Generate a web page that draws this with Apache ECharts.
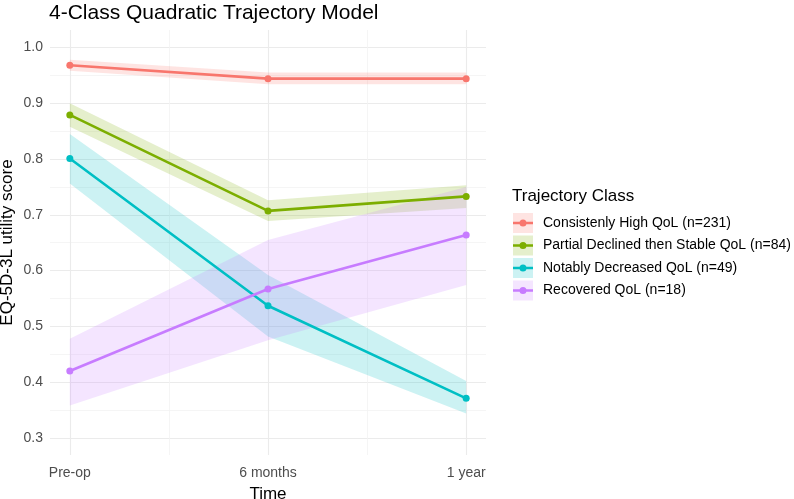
<!DOCTYPE html>
<html>
<head>
<meta charset="utf-8">
<script src="https://cdn.jsdelivr.net/npm/echarts@6/dist/echarts.min.js"></script>
<style>
  html, body { margin: 0; padding: 0; background: #fff; }
  #chart { width: 794px; height: 499px; }
</style>
</head>
<body>
<div id="chart"></div>
<script>
// time in months, with the labels shown under the axis
const timePoints = [0, 6, 12];
const timeLabels = ['Pre-op', '6 months', '1 year'];
const minorTimes = [3, 9];

const yMajorTicks = [0.3, 0.4, 0.5, 0.6, 0.7, 0.8, 0.9, 1.0];
const yMinorTicks = [0.35, 0.45, 0.55, 0.65, 0.75, 0.85, 0.95];

const classNames = [
  'Consistenly High QoL (n=231)',
  'Partial Declined then Stable QoL (n=84)',
  'Notably Decreased QoL (n=49)',
  'Recovered QoL (n=18)'
];
const classColors = ['#F8766D', '#7CAE00', '#00BFC4', '#C77CFF'];

// mean utility and ribbon per class
const highMean = [0.968, 0.944, 0.944];
const highLower = [0.958, 0.934, 0.934];
const highUpper = [0.978, 0.955, 0.955];

const partialMean = [0.879, 0.707, 0.733];
const partialLower = [0.858, 0.689, 0.712];
const partialUpper = [0.900, 0.726, 0.753];

const decreasedMean = [0.801, 0.537, 0.371];
const decreasedLower = [0.756, 0.482, 0.344];
const decreasedUpper = [0.845, 0.592, 0.402];

const recoveredMean = [0.420, 0.567, 0.664];
const recoveredLower = [0.358, 0.475, 0.574];
const recoveredUpper = [0.478, 0.655, 0.750];

const means = [highMean, partialMean, decreasedMean, recoveredMean];
const lowers = [highLower, partialLower, decreasedLower, recoveredLower];
const uppers = [highUpper, partialUpper, decreasedUpper, recoveredUpper];

const FONT = 'Liberation Sans, Arial, sans-serif';

let chart = echarts.init(document.getElementById('chart'));

function bandSeries(idx) {
  const lo = lowers[idx], hi = uppers[idx];
  return {
    type: 'custom',
    name: classNames[idx] + ' band',
    silent: true,
    z: 1,
    data: timePoints.map((t, i) => [t, lo[i], hi[i]]),
    encode: { x: 0, y: [1, 2] },
    renderItem: function (params, api) {
      if (params.dataIndex !== 0) return;
      let pts = [];
      for (let i = 0; i < timePoints.length; i++) pts.push(api.coord([timePoints[i], hi[i]]));
      for (let i = timePoints.length - 1; i >= 0; i--) pts.push(api.coord([timePoints[i], lo[i]]));
      return {
        type: 'polygon',
        shape: { points: pts },
        style: { fill: classColors[idx], opacity: 0.2 }
      };
    }
  };
}

function lineSeries(idx) {
  return {
    type: 'line',
    name: classNames[idx],
    z: 3,
    data: timePoints.map((t, i) => [t, means[idx][i]]),
    symbol: 'circle',
    symbolSize: 7,
    showSymbol: true,
    lineStyle: { width: 2.6, color: classColors[idx] },
    itemStyle: { color: classColors[idx] }
  };
}

// legend key: line with a point, bbox kept square by tiny corner marks
const keyIcon = 'path://M0,0h0.01v0.01h-0.01z M19.99,19.99h0.01v0.01h-0.01z M0,8.7H20V11.3H0Z M6.5,10a3.5,3.5 0 1,1 7,0a3.5,3.5 0 1,1 -7,0Z';
const legendTop = 213;
const legendGap = 2.5;

let series = [];
for (let i = 0; i < 4; i++) series.push(bandSeries(i));
for (let i = 0; i < 4; i++) series.push(lineSeries(i));

let option = {
  animation: false,
  backgroundColor: '#fff',
  title: [
    {
      text: '4-Class Quadratic Trajectory Model',
      left: 49, top: 3, padding: 0,
      textStyle: { fontFamily: FONT, fontSize: 21, fontWeight: 'normal', color: '#000' }
    },
    {
      text: 'Trajectory Class',
      left: 512, top: 188, padding: 0,
      textStyle: { fontFamily: FONT, fontSize: 17, fontWeight: 'normal', color: '#000' }
    }
  ],
  grid: { left: 50, right: 308, top: 30, bottom: 44, containLabel: false, outerBoundsMode: 'none' },
  legend: {
    orient: 'vertical',
    left: 513, top: legendTop, padding: 0,
    itemWidth: 20, itemHeight: 20, itemGap: legendGap,
    data: classNames.map(n => ({ name: n, icon: keyIcon })),
    itemStyle: { borderWidth: 0 },
    textStyle: { fontFamily: FONT, fontSize: 14, color: '#000', padding: [0, 0, 0, 5] },
    selectedMode: false
  },
  graphic: classNames.map((n, i) => ({
    type: 'rect',
    z: 0,
    shape: { x: 513, y: legendTop + i * (20 + legendGap), width: 20, height: 20 },
    style: { fill: classColors[i], opacity: 0.2 }
  })),
  xAxis: [
    {
      type: 'value', min: -0.6, max: 12.6,
      name: 'Time', nameLocation: 'middle', nameGap: 31, nameMoveOverlap: false,
      nameTextStyle: { fontFamily: FONT, fontSize: 17, color: '#000' },
      axisLine: { show: false },
      axisTick: { show: false, customValues: timePoints },
      axisLabel: {
        customValues: timePoints, margin: 11,
        fontFamily: FONT, fontSize: 14, color: '#4D4D4D',
        formatter: v => timeLabels[timePoints.indexOf(v)]
      },
      splitLine: { show: true, lineStyle: { color: '#EBEBEB', width: 1.1 } }
    },
    {
      type: 'value', min: -0.6, max: 12.6, position: 'bottom',
      axisLine: { show: false },
      axisTick: { show: false, customValues: minorTimes },
      axisLabel: { show: false, customValues: minorTimes },
      splitLine: { show: true, lineStyle: { color: '#F2F2F2', width: 0.8 } }
    }
  ],
  yAxis: [
    {
      type: 'value', min: 0.2695, max: 1.0312,
      name: 'EQ-5D-3L utility score', nameLocation: 'middle', nameGap: 34, nameMoveOverlap: false,
      nameTextStyle: { fontFamily: FONT, fontSize: 17, color: '#000' },
      axisLine: { show: false },
      axisTick: { show: false, customValues: yMajorTicks },
      axisLabel: {
        customValues: yMajorTicks, margin: 7,
        fontFamily: FONT, fontSize: 14, color: '#4D4D4D',
        formatter: v => v.toFixed(1)
      },
      splitLine: { show: true, lineStyle: { color: '#EBEBEB', width: 1.1 } }
    },
    {
      type: 'value', min: 0.2695, max: 1.0312, position: 'left',
      axisLine: { show: false },
      axisTick: { show: false, customValues: yMinorTicks },
      axisLabel: { show: false, customValues: yMinorTicks },
      splitLine: { show: true, lineStyle: { color: '#F2F2F2', width: 0.8 } }
    }
  ],
  series: series
};

chart.setOption(option);
</script>
</body>
</html>
